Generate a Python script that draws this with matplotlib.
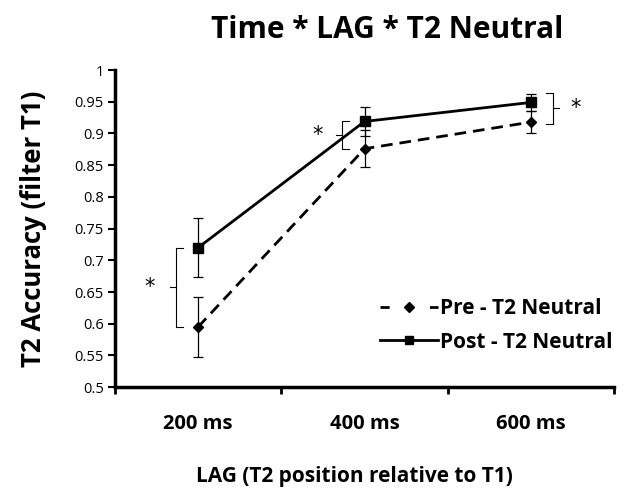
import matplotlib.pyplot as plt
from matplotlib.lines import Line2D

# values
lags = ['200 ms', '400 ms', '600 ms']
pre = [0.595, 0.876, 0.918]
pre_err = [0.047, 0.029, 0.017]
post = [0.72, 0.919, 0.949]
post_err = [0.047, 0.023, 0.014]
yticks = [0.5, 0.55, 0.6, 0.65, 0.7, 0.75, 0.8, 0.85, 0.9, 0.95, 1]

font = 'Open Sans'
dash = (0, (4.2, 2.5))

fig = plt.figure(figsize=(6.28, 4.97), dpi=100)
ax = fig.add_axes([0.183, 0.221, 0.795, 0.638])

x = list(range(len(lags)))
ax.errorbar(x, pre, yerr=pre_err, color='black', lw=2, ls=dash,
            marker='D', ms=5.5, capsize=3.5, elinewidth=0.9, capthick=0.9,
            zorder=3)
ax.errorbar(x, post, yerr=post_err, color='black', lw=2, ls='-',
            marker='s', ms=7.5, capsize=3.5, elinewidth=0.9, capthick=0.9,
            zorder=3)

# significance brackets (left side for 200/400 ms, right side for 600 ms)
def bracket(xc, lo, hi, side, xoff, star_off):
    xb = xc + xoff
    d = 0.04 * side
    ax.plot([xb + d, xb, xb, xb + d], [hi, hi, lo, lo], color='black', lw=0.8)
    mid = (lo + hi) / 2
    ax.plot([xb, xb - d], [mid, mid], color='black', lw=0.8)
    ax.text(xc + star_off, mid, '*', ha='center', va='center', fontsize=15,
            family='DejaVu Sans')

bracket(0, pre[0], post[0], 1, -0.13, -0.29)
bracket(1, pre[1], post[1], 1, -0.134, -0.285)
bracket(2, pre[2] - 0.003, post[2] + 0.015, -1, 0.13, 0.27)

ax.set_xlim(-0.5, 2.5)
ax.set_ylim(0.5, 1.0)
ax.set_yticks(yticks)
ax.set_yticklabels([f'{v:g}' for v in yticks], fontsize=10.5, family=font)
ax.set_xticks([-0.5, 0.5, 1.5, 2.5])
ax.set_xticklabels([])
ax.set_xticks(x, minor=True)
ax.set_xticklabels(lags, minor=True, fontsize=14.5, fontweight='bold', family=font)
ax.tick_params(axis='x', which='minor', length=0, pad=19)
ax.tick_params(axis='x', which='major', direction='out', length=5, width=2)
ax.tick_params(axis='y', direction='out', length=5, width=1.5, pad=3)

for s in ['top', 'right']:
    ax.spines[s].set_visible(False)
for s in ['left', 'bottom']:
    ax.spines[s].set_linewidth(2.5)

ax.set_title('Time * LAG * T2 Neutral', fontsize=21.5, fontweight='bold',
             family=font, x=0.545, y=1.101, pad=0)
ax.set_xlabel('LAG (T2 position relative to T1)', fontsize=15,
              fontweight='bold', family=font)
ax.xaxis.set_label_coords(0.48, -0.25)
ax.set_ylabel('T2 Accuracy (filter T1)', fontsize=18.5, fontweight='bold',
              family=font, va='center')
ax.yaxis.set_label_coords(-0.164, 0.5)

handles = [
    Line2D([], [], color='black', lw=2, ls=(0, (3.3, 14.5)), marker='D', ms=5),
    Line2D([], [], color='black', lw=2, ls='-', marker='s', ms=6),
]
ax.legend(handles, ['Pre - T2 Neutral', 'Post - T2 Neutral'],
          loc='lower right', bbox_to_anchor=(1.035, 0.05), frameon=False,
          prop={'family': font, 'weight': 'bold', 'size': 15},
          handlelength=2.8, handletextpad=0.1, labelspacing=0.6)

plt.savefig('out.png', dpi=100)
